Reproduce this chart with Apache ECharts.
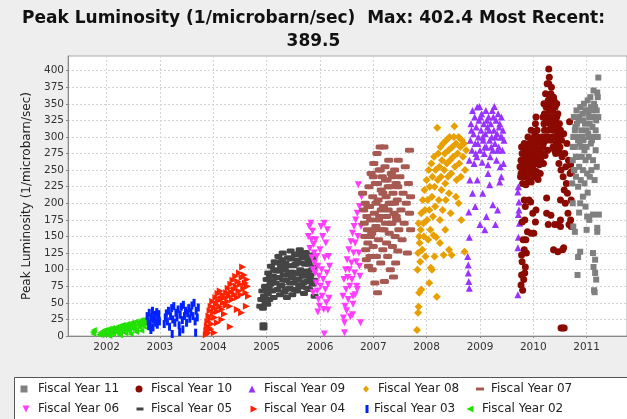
<!DOCTYPE html>
<html lang="en">
<head>
<meta charset="UTF-8">
<title>Peak Luminosity</title>
<script src="https://cdn.jsdelivr.net/npm/echarts@6/dist/echarts.min.js"></script>
<style>
  html, body { margin: 0; padding: 0; background: #eeeeee; }
  #chart { width: 627px; height: 419px; }
</style>
</head>
<body>
<div id="chart"></div>
<script>
// [decimal year, peak luminosity]
var fy02 = [[2001.74,6],[2001.75,3],[2001.76,9],[2001.86,2],[2001.88,5],[2001.9,1],[2001.92,7],[2001.94,3],[2001.95,6],[2001.96,9],[2001.98,5],[2002.0,2],[2002.01,5],[2002.02,8],[2002.04,11],[2002.05,0],[2002.06,4],[2002.08,7],[2002.1,12],[2002.11,6],[2002.12,3],[2002.14,9],[2002.16,6],[2002.18,13],[2002.2,10],[2002.21,7],[2002.22,4],[2002.24,15],[2002.25,1],[2002.26,8],[2002.28,12],[2002.3,17],[2002.31,10],[2002.32,6],[2002.34,14],[2002.35,4],[2002.36,10],[2002.38,18],[2002.4,13],[2002.41,11],[2002.42,7],[2002.44,16],[2002.45,3],[2002.46,20],[2002.48,11],[2002.5,18],[2002.51,10],[2002.52,14],[2002.54,22],[2002.55,6],[2002.56,9],[2002.58,17],[2002.6,21],[2002.61,16],[2002.62,13],[2002.64,24],[2002.65,8],[2002.66,19],[2002.68,15],[2002.7,25],[2002.71,20],[2002.72,22],[2002.74,18],[2002.75,12],[2002.76,26]];
var fy03 = [[2002.76,30],[2002.78,22],[2002.79,15],[2002.8,35],[2002.82,18],[2002.83,9],[2002.84,28],[2002.86,38],[2002.87,13],[2002.88,25],[2002.9,32],[2002.91,24],[2002.92,20],[2002.94,36],[2002.95,17],[2002.96,27],[2002.98,33],[2002.99,22],[2003.08,18],[2003.1,28],[2003.12,34],[2003.14,22],[2003.16,38],[2003.18,14],[2003.2,30],[2003.22,42],[2003.23,3],[2003.24,25],[2003.26,45],[2003.28,20],[2003.3,35],[2003.32,28],[2003.34,40],[2003.36,16],[2003.37,6],[2003.38,32],[2003.4,44],[2003.42,24],[2003.43,10],[2003.44,47],[2003.46,30],[2003.48,38],[2003.5,20],[2003.52,34],[2003.54,42],[2003.56,26],[2003.58,36],[2003.6,46],[2003.62,30],[2003.64,50],[2003.66,22],[2003.67,5],[2003.68,38],[2003.7,28],[2003.72,43]];
var fy04 = [[2003.87,2],[2003.88,8],[2003.89,15],[2003.9,22],[2003.91,5],[2003.92,30],[2003.93,12],[2003.94,38],[2003.95,26],[2003.95,10],[2003.96,45],[2003.97,18],[2003.99,52],[2004.0,35],[2004.02,42],[2004.02,5],[2004.03,28],[2004.05,58],[2004.06,48],[2004.08,37],[2004.08,20],[2004.09,64],[2004.1,53],[2004.12,44],[2004.13,68],[2004.15,56],[2004.16,40],[2004.16,25],[2004.18,62],[2004.19,50],[2004.21,33],[2004.22,58],[2004.24,46],[2004.25,65],[2004.27,52],[2004.28,72],[2004.3,60],[2004.31,45],[2004.32,14],[2004.33,78],[2004.34,66],[2004.36,55],[2004.37,84],[2004.39,70],[2004.4,62],[2004.42,90],[2004.43,75],[2004.45,58],[2004.45,40],[2004.46,82],[2004.48,68],[2004.49,95],[2004.51,78],[2004.52,62],[2004.53,35],[2004.54,88],[2004.55,104],[2004.57,72],[2004.58,92],[2004.6,80],[2004.61,65],[2004.62,45],[2004.63,85],[2004.64,75],[2004.66,60]];
var fy05 = [[2004.88,45],[2004.9,55],[2004.92,68],[2004.93,42],[2004.94,17],[2004.94,12],[2004.95,60],[2004.96,58],[2004.97,75],[2004.98,50],[2004.99,70],[2005.0,85],[2005.01,48],[2005.02,64],[2005.03,95],[2005.04,72],[2005.05,55],[2005.06,90],[2005.07,78],[2005.08,105],[2005.1,68],[2005.11,82],[2005.12,90],[2005.13,58],[2005.14,100],[2005.15,112],[2005.17,80],[2005.18,98],[2005.19,88],[2005.2,70],[2005.21,110],[2005.22,120],[2005.23,88],[2005.24,98],[2005.25,62],[2005.26,76],[2005.27,104],[2005.28,76],[2005.29,115],[2005.3,125],[2005.31,84],[2005.32,92],[2005.33,66],[2005.34,100],[2005.35,110],[2005.36,70],[2005.37,84],[2005.38,58],[2005.39,92],[2005.4,118],[2005.41,106],[2005.42,96],[2005.43,72],[2005.44,80],[2005.45,128],[2005.46,116],[2005.47,88],[2005.48,62],[2005.49,96],[2005.5,106],[2005.51,70],[2005.52,80],[2005.53,122],[2005.54,108],[2005.55,94],[2005.56,84],[2005.57,68],[2005.58,114],[2005.59,124],[2005.6,86],[2005.61,76],[2005.62,130],[2005.63,100],[2005.64,110],[2005.65,74],[2005.66,96],[2005.67,118],[2005.68,90],[2005.69,80],[2005.7,64],[2005.71,120],[2005.72,108],[2005.73,126],[2005.74,94],[2005.75,82],[2005.76,72],[2005.77,98],[2005.78,115],[2005.79,108],[2005.8,70],[2005.81,86],[2005.82,92],[2005.84,122],[2005.85,100],[2005.86,78],[2005.87,118],[2005.88,104],[2005.89,84],[2005.9,60]];
var fy06 = [[2005.78,150],[2005.8,165],[2005.81,132],[2005.83,170],[2005.84,145],[2005.85,118],[2005.86,158],[2005.87,100],[2005.87,65],[2005.88,138],[2005.89,125],[2005.9,110],[2005.91,95],[2005.92,145],[2005.93,80],[2005.94,120],[2005.95,68],[2005.96,105],[2005.96,36],[2005.97,55],[2005.98,90],[2005.99,45],[2006.0,130],[2006.01,75],[2006.02,165],[2006.03,100],[2006.04,60],[2006.05,150],[2006.06,85],[2006.07,40],[2006.08,3],[2006.08,170],[2006.09,118],[2006.1,70],[2006.11,140],[2006.12,50],[2006.13,95],[2006.14,160],[2006.15,78],[2006.15,39],[2006.16,120],[2006.17,57],[2006.18,105],[2006.43,60],[2006.44,27],[2006.45,85],[2006.46,5],[2006.46,20],[2006.47,45],[2006.48,100],[2006.49,70],[2006.5,38],[2006.51,115],[2006.52,88],[2006.53,55],[2006.54,130],[2006.55,100],[2006.56,75],[2006.57,29],[2006.58,142],[2006.59,110],[2006.6,85],[2006.61,155],[2006.61,32],[2006.62,60],[2006.62,48],[2006.63,125],[2006.64,165],[2006.65,95],[2006.66,140],[2006.66,62],[2006.67,175],[2006.68,112],[2006.69,75],[2006.7,185],[2006.7,70],[2006.71,150],[2006.72,228],[2006.73,125],[2006.74,195],[2006.74,105],[2006.75,90],[2006.76,20],[2006.77,165],[2006.78,210]];
var fy07 = [[2006.8,215],[2006.82,190],[2006.83,170],[2006.84,150],[2006.85,200],[2006.86,130],[2006.87,115],[2006.88,180],[2006.89,160],[2006.9,140],[2006.9,195],[2006.91,105],[2006.92,225],[2006.93,195],[2006.94,120],[2006.95,175],[2006.95,150],[2006.96,245],[2006.97,155],[2006.98,100],[2006.99,210],[2007.0,135],[2007.0,240],[2007.01,260],[2007.02,185],[2007.02,160],[2007.03,80],[2007.04,230],[2007.05,165],[2007.05,200],[2007.06,120],[2007.07,275],[2007.08,65],[2007.08,230],[2007.09,205],[2007.1,145],[2007.1,175],[2007.11,250],[2007.12,180],[2007.13,285],[2007.13,250],[2007.14,110],[2007.15,220],[2007.15,190],[2007.16,160],[2007.17,240],[2007.18,130],[2007.18,215],[2007.19,195],[2007.2,285],[2007.2,160],[2007.21,82],[2007.22,255],[2007.23,170],[2007.23,235],[2007.24,210],[2007.25,140],[2007.25,180],[2007.26,235],[2007.27,120],[2007.28,190],[2007.28,225],[2007.29,265],[2007.3,155],[2007.3,200],[2007.31,225],[2007.32,100],[2007.33,200],[2007.33,170],[2007.34,245],[2007.35,170],[2007.36,135],[2007.36,240],[2007.37,215],[2007.38,89],[2007.39,185],[2007.4,250],[2007.4,200],[2007.41,150],[2007.42,110],[2007.43,230],[2007.43,180],[2007.44,175],[2007.45,205],[2007.46,128],[2007.46,225],[2007.47,265],[2007.48,160],[2007.5,240],[2007.52,190],[2007.54,145],[2007.56,215],[2007.58,170],[2007.6,255],[2007.62,200],[2007.64,125],[2007.66,230],[2007.68,280],[2007.68,185],[2007.7,160],[2007.7,210]];
var fy08 = [[2007.82,9],[2007.84,35],[2007.85,44],[2007.86,65],[2007.83,100],[2007.84,125],[2007.86,150],[2007.85,170],[2007.87,140],[2007.88,112],[2007.89,160],[2007.9,185],[2007.9,70],[2007.92,130],[2007.93,205],[2007.94,170],[2007.95,150],[2007.96,220],[2007.97,190],[2007.98,120],[2008.0,235],[2008.01,175],[2008.02,205],[2008.03,145],[2008.04,250],[2008.05,190],[2008.05,80],[2008.06,225],[2008.07,160],[2008.08,103],[2008.09,260],[2008.1,210],[2008.1,100],[2008.11,240],[2008.12,180],[2008.13,152],[2008.14,270],[2008.15,225],[2008.15,120],[2008.16,195],[2008.17,250],[2008.18,149],[2008.19,59],[2008.2,314],[2008.21,235],[2008.22,275],[2008.23,205],[2008.24,255],[2008.25,175],[2008.25,140],[2008.26,285],[2008.27,240],[2008.28,220],[2008.29,265],[2008.3,190],[2008.31,290],[2008.32,122],[2008.33,250],[2008.34,275],[2008.35,230],[2008.35,160],[2008.36,205],[2008.37,295],[2008.38,260],[2008.4,240],[2008.41,280],[2008.42,215],[2008.42,130],[2008.43,300],[2008.44,265],[2008.45,185],[2008.46,245],[2008.47,122],[2008.48,285],[2008.5,270],[2008.51,300],[2008.52,316],[2008.53,255],[2008.55,290],[2008.55,210],[2008.56,235],[2008.58,275],[2008.6,300],[2008.6,200],[2008.61,260],[2008.63,285],[2008.64,240],[2008.65,175],[2008.66,295],[2008.68,270],[2008.7,290],[2008.71,127],[2008.72,250],[2008.74,280]];
var fy09 = [[2008.77,120],[2008.78,107],[2008.78,95],[2008.79,82],[2008.8,72],[2008.8,149],[2008.79,187],[2008.81,235],[2008.8,265],[2008.82,295],[2008.83,320],[2008.84,310],[2008.85,280],[2008.86,340],[2008.86,215],[2008.88,305],[2008.89,260],[2008.9,330],[2008.91,290],[2008.91,195],[2008.92,275],[2008.93,315],[2008.94,270],[2008.95,345],[2008.95,235],[2008.96,290],[2008.97,300],[2008.98,325],[2008.99,346],[2009.0,280],[2009.0,168],[2009.01,330],[2009.02,310],[2009.03,335],[2009.04,262],[2009.05,300],[2009.05,215],[2009.06,295],[2009.07,320],[2009.08,275],[2009.09,285],[2009.09,160],[2009.1,305],[2009.11,340],[2009.12,285],[2009.12,180],[2009.13,325],[2009.14,315],[2009.15,258],[2009.15,245],[2009.16,330],[2009.17,310],[2009.18,295],[2009.18,228],[2009.19,270],[2009.2,320],[2009.21,285],[2009.22,300],[2009.23,340],[2009.24,280],[2009.24,198],[2009.25,330],[2009.26,310],[2009.27,346],[2009.28,290],[2009.29,300],[2009.29,168],[2009.3,325],[2009.31,265],[2009.32,305],[2009.33,280],[2009.33,190],[2009.34,335],[2009.35,285],[2009.36,315],[2009.37,320],[2009.37,232],[2009.38,255],[2009.39,300],[2009.4,330],[2009.4,240],[2009.41,300],[2009.42,280],[2009.43,310],[2009.44,260],[2009.45,295],[2009.71,62],[2009.71,133],[2009.72,149],[2009.74,170],[2009.72,183],[2009.73,190],[2009.73,202],[2009.71,217],[2009.72,225]];
var fy10 = [[2009.75,255],[2009.76,240],[2009.77,265],[2009.77,245],[2009.78,285],[2009.79,250],[2009.79,275],[2009.8,230],[2009.8,260],[2009.81,275],[2009.81,262],[2009.82,255],[2009.83,290],[2009.83,240],[2009.84,240],[2009.84,258],[2009.85,270],[2009.85,285],[2009.86,228],[2009.87,282],[2009.87,250],[2009.88,258],[2009.88,270],[2009.89,245],[2009.89,265],[2009.9,275],[2009.9,250],[2009.9,300],[2009.91,235],[2009.91,280],[2009.92,290],[2009.93,262],[2009.93,245],[2009.94,248],[2009.94,265],[2009.95,280],[2009.95,258],[2009.96,232],[2009.96,310],[2009.97,268],[2009.97,290],[2009.98,295],[2009.99,252],[2009.99,270],[2010.0,275],[2010.0,258],[2010.01,240],[2010.01,285],[2010.02,300],[2010.03,262],[2010.03,245],[2010.03,305],[2010.04,320],[2010.05,282],[2010.05,260],[2010.05,330],[2010.06,248],[2010.06,270],[2010.07,310],[2010.07,290],[2010.08,270],[2010.08,300],[2010.09,236],[2010.09,262],[2010.1,292],[2010.11,258],[2010.11,280],[2010.12,278],[2010.12,260],[2010.13,245],[2010.13,290],[2010.14,265],[2010.16,300],[2010.17,275],[2010.18,330],[2010.18,285],[2010.19,290],[2010.19,260],[2010.2,350],[2010.2,320],[2010.21,310],[2010.21,335],[2010.22,272],[2010.22,295],[2010.23,365],[2010.23,300],[2010.24,325],[2010.24,345],[2010.25,295],[2010.26,380],[2010.26,330],[2010.27,345],[2010.27,300],[2010.27,280],[2010.28,310],[2010.28,355],[2010.29,402.4],[2010.29,380],[2010.3,390],[2010.3,340],[2010.31,360],[2010.31,320],[2010.32,330],[2010.32,350],[2010.33,295],[2010.33,365],[2010.34,375],[2010.34,325],[2010.35,345],[2010.35,300],[2010.36,315],[2010.36,340],[2010.37,285],[2010.37,330],[2010.38,360],[2010.38,310],[2010.39,330],[2010.39,355],[2010.4,300],[2010.4,280],[2010.41,345],[2010.41,300],[2010.42,275],[2010.42,325],[2010.43,320],[2010.43,290],[2010.44,350],[2010.44,330],[2010.45,290],[2010.45,310],[2010.46,335],[2010.47,305],[2010.47,280],[2010.48,260],[2010.48,295],[2010.49,320],[2010.49,300],[2010.5,285],[2010.5,300],[2010.51,310],[2010.52,250],[2010.52,275],[2010.53,295],[2010.54,270],[2010.56,240],[2010.57,305],[2010.58,220],[2010.59,275],[2010.6,200],[2010.61,255],[2010.62,230],[2010.63,290],[2010.64,215],[2010.65,185],[2010.66,265],[2010.67,168],[2010.68,323],[2010.69,245],[2010.7,258],[2010.7,175],[2010.71,205],[2010.71,165],[2010.72,248],[2009.77,77],[2009.78,92],[2009.79,112],[2009.78,122],[2009.8,69],[2009.82,85],[2009.84,95],[2009.85,104],[2009.87,125],[2009.83,130],[2009.81,145],[2009.86,145],[2009.89,157],[2009.79,172],[2009.84,175],[2009.85,195],[2009.83,205],[2009.92,205],[2009.96,155],[2010.01,155],[2009.99,185],[2010.04,172],[2010.05,190],[2009.95,202],[2010.25,208],[2010.25,185],[2010.33,182],[2010.28,168],[2010.4,168],[2010.46,168],[2010.51,205],[2010.51,175],[2010.51,165],[2010.38,130],[2010.46,127],[2010.55,130],[2010.57,133],[2010.52,12],[2010.55,12],[2010.58,12]];
var fy11 = [[2010.73,230],[2010.74,265],[2010.74,285],[2010.74,200],[2010.75,300],[2010.75,165],[2010.76,330],[2010.76,250],[2010.77,250],[2010.78,285],[2010.78,310],[2010.78,157],[2010.79,315],[2010.8,240],[2010.8,270],[2010.81,340],[2010.82,270],[2010.82,320],[2010.83,300],[2010.83,92],[2010.84,225],[2010.84,295],[2010.84,119],[2010.85,325],[2010.86,255],[2010.86,330],[2010.86,186],[2010.87,290],[2010.88,345],[2010.88,127],[2010.88,200],[2010.89,235],[2010.9,310],[2010.9,285],[2010.91,270],[2010.92,335],[2010.92,300],[2010.93,250],[2010.93,210],[2010.94,295],[2010.94,325],[2010.95,350],[2010.96,230],[2010.96,280],[2010.97,320],[2010.98,265],[2010.98,340],[2010.98,195],[2010.99,340],[2011.0,285],[2011.0,310],[2011.0,160],[2011.01,245],[2011.01,180],[2011.02,355],[2011.02,216],[2011.03,305],[2011.03,335],[2011.04,270],[2011.04,300],[2011.05,330],[2011.05,175],[2011.06,240],[2011.06,320],[2011.07,360],[2011.08,290],[2011.08,345],[2011.09,250],[2011.1,340],[2011.1,295],[2011.11,315],[2011.12,265],[2011.12,330],[2011.12,183],[2011.12,125],[2011.13,370],[2011.13,104],[2011.14,300],[2011.14,350],[2011.14,69],[2011.15,235],[2011.15,66],[2011.16,345],[2011.16,115],[2011.16,95],[2011.17,280],[2011.17,310],[2011.18,325],[2011.18,85],[2011.19,255],[2011.19,340],[2011.2,367],[2011.2,157],[2011.2,163],[2011.21,300],[2011.21,360],[2011.22,330],[2011.23,183],[2011.22,389.5]];

var seriesNames = ['Fiscal Year 11', 'Fiscal Year 10', 'Fiscal Year 09', 'Fiscal Year 08', 'Fiscal Year 07',
                   'Fiscal Year 06', 'Fiscal Year 05', 'Fiscal Year 04', 'Fiscal Year 03', 'Fiscal Year 02'];
var seriesData = [fy11, fy10, fy09, fy08, fy07, fy06, fy05, fy04, fy03, fy02];

// marker look per series, same order as seriesNames
var looks = [
  { color: '#808080', symbol: 'rect',      size: 6,      rotate: 0,   icon: [7, 7], legendIcon: 'rect' },
  { color: '#8b0a00', symbol: 'circle',    size: 7,      rotate: 0,   icon: [7, 7], legendIcon: 'circle' },
  { color: '#9933ff', symbol: 'triangle',  size: 7,      rotate: 0,   icon: [7, 7], legendIcon: 'triangle' },
  { color: '#e8a000', symbol: 'diamond',   size: 8,      rotate: 0,   icon: [6, 7], legendIcon: 'diamond' },
  { color: '#a65a52', symbol: 'roundRect', size: [9, 5], rotate: 0,   icon: [8, 3], legendIcon: 'rect' },
  { color: '#ff3dff', symbol: 'triangle',  size: 7,      rotate: 180, icon: [7, 7], legendIcon: 'path://M0,0L10,0L5,10Z' },
  { color: '#454545', symbol: 'roundRect', size: [8, 5], rotate: 0,   icon: [7, 3], legendIcon: 'rect' },
  { color: '#ff2200', symbol: 'triangle',  size: 7,      rotate: -90, icon: [7, 7], legendIcon: 'path://M0,0L10,5L0,10Z' },
  { color: '#0022ff', symbol: 'rect',      size: [3, 8], rotate: 0,   icon: [3, 8], legendIcon: 'rect' },
  { color: '#22e000', symbol: 'triangle',  size: 6,      rotate: 90,  icon: [7, 7], legendIcon: 'path://M10,0L0,5L10,10Z' }
];

// legend slots: [icon centre x, text start x, row centre y]
var legendSlots = [
  [24, 38, 389], [139, 151, 389], [252, 264, 389], [366, 378, 389], [480, 491, 389],
  [26, 38, 409], [140, 151, 409], [254, 264, 409], [367, 374, 409], [470, 482, 409]
];

function toTime(y) {
  var yr = Math.floor(y);
  var a = Date.UTC(yr, 0, 1), b = Date.UTC(yr + 1, 0, 1);
  return a + (y - yr) * (b - a);
}

var series = [];
for (var i = seriesNames.length - 1; i >= 0; i--) {
  series.push({
    name: seriesNames[i],
    type: 'scatter',
    symbol: looks[i].symbol,
    symbolSize: looks[i].size,
    symbolRotate: looks[i].rotate,
    itemStyle: { color: looks[i].color, opacity: 1 },
    emphasis: { disabled: true },
    data: seriesData[i].map(function (p) { return [toTime(p[0]), p[1]]; })
  });
}

var legends = seriesNames.map(function (n, i) {
  var s = legendSlots[i], w = looks[i].icon[0], h = looks[i].icon[1];
  var left = s[0] - w / 2;
  return {
    data: [{ name: n, icon: looks[i].legendIcon }],
    left: left,
    top: s[2] - 7,
    padding: 0,
    itemWidth: w,
    itemHeight: h,
    symbolRotate: 0,
    symbolKeepAspect: false,
    selectedMode: false,
    textStyle: {
      fontFamily: 'DejaVu Sans', fontSize: 12, color: '#222',
      lineHeight: 14, padding: [0, 0, 0, Math.max(0, s[1] - (left + w + 5))]
    }
  };
});

var chart = echarts.init(document.getElementById('chart'));
chart.setOption({
  useUTC: true,
  animation: false,
  backgroundColor: '#eeeeee',
  textStyle: { fontFamily: 'DejaVu Sans' },
  title: {
    text: 'Peak Luminosity (1/microbarn/sec)  Max: 402.4 Most Recent:\n389.5',
    left: 'center',
    top: 7,
    padding: 0,
    textStyle: { fontFamily: 'DejaVu Sans', fontSize: 17, fontWeight: 'bold', color: '#111', lineHeight: 23, align: 'center' }
  },
  graphic: [{
    type: 'rect', z: 0, silent: true,
    shape: { x: 14.5, y: 377.5, width: 700, height: 100 },
    style: { fill: '#ffffff', stroke: '#555555', lineWidth: 1 }
  }],
  legend: legends,
  grid: {
    left: 68, top: 56, right: -5, bottom: 83,
    show: true, backgroundColor: '#ffffff', borderColor: '#aaaaaa', borderWidth: 1
  },
  xAxis: {
    type: 'time',
    min: toTime(2001.275),
    max: toTime(2011.758),
    splitNumber: 10,
    axisLine: { lineStyle: { color: '#888888' } },
    axisTick: { show: true, length: 2, lineStyle: { color: '#888888' } },
    axisLabel: {
      formatter: '{yyyy}', fontSize: 10.5, color: '#333', margin: 6,
      showMinLabel: false, showMaxLabel: false
    },
    splitLine: { show: true, lineStyle: { color: '#d4d4d4', type: [2, 2] } }
  },
  yAxis: {
    type: 'value',
    min: 0, max: 422, interval: 25,
    name: 'Peak Luminosity (1/microbarn/sec)',
    nameLocation: 'middle',
    nameGap: 35,
    nameTextStyle: { fontFamily: 'DejaVu Sans', fontSize: 12, color: '#222' },
    axisLine: { show: true, lineStyle: { color: '#888888' } },
    axisTick: { show: true, length: 2, lineStyle: { color: '#888888' } },
    axisLabel: { fontSize: 10.5, color: '#333', margin: 4, showMaxLabel: false },
    splitLine: { show: true, lineStyle: { color: '#d4d4d4', type: [2, 2] } }
  },
  series: series
});
</script>
</body>
</html>
